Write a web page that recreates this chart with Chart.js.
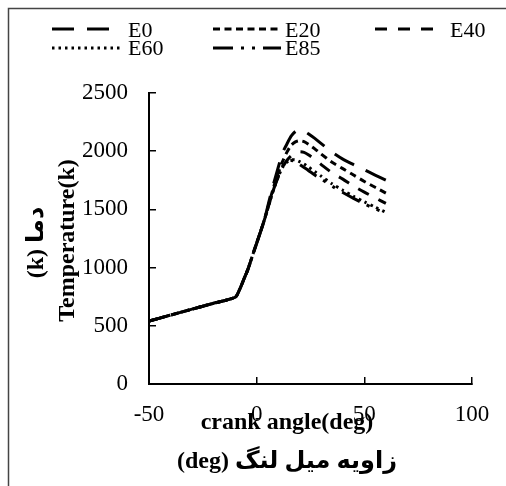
<!DOCTYPE html>
<html lang="en">
<head>
<meta charset="UTF-8">
<title>Temperature vs crank angle</title>
<script src="https://cdn.jsdelivr.net/npm/chart.js"></script>
<style>
  html, body { margin: 0; padding: 0; background: #fff; }
</style>
</head>
<body>
<canvas id="myChart" width="506" height="486"></canvas>

<script>
// crank angle (deg), shared by all series
const angles = [-50, -40, -30, -20, -10, -8, -6, -4, -2, 0, 2, 4, 6, 8, 10, 12, 14, 16, 18, 20, 22, 24, 27, 30, 35, 40, 45, 50, 55, 60];

// in-cylinder temperature (k)
const tempE0  = [540, 592, 643, 694, 745, 808, 898, 988, 1100, 1210, 1320, 1440, 1590, 1730, 1860, 1985, 2060, 2130, 2170, 2185, 2175, 2150, 2110, 2065, 1992, 1932, 1885, 1840, 1795, 1752];
const tempE20 = [540, 592, 643, 694, 745, 808, 898, 988, 1100, 1210, 1320, 1435, 1570, 1700, 1810, 1910, 1990, 2050, 2080, 2090, 2082, 2060, 2020, 1975, 1905, 1850, 1795, 1740, 1690, 1640];
const tempE40 = [540, 592, 643, 694, 745, 808, 898, 988, 1100, 1210, 1320, 1435, 1560, 1680, 1780, 1860, 1920, 1960, 1985, 1995, 1990, 1970, 1930, 1885, 1815, 1760, 1700, 1648, 1600, 1552];
const tempE60 = [540, 592, 643, 694, 745, 808, 898, 988, 1100, 1210, 1320, 1435, 1560, 1680, 1780, 1860, 1905, 1925, 1925, 1910, 1890, 1865, 1825, 1785, 1720, 1665, 1612, 1565, 1520, 1475];
const tempE85 = [540, 592, 643, 694, 745, 808, 898, 988, 1100, 1210, 1320, 1435, 1560, 1680, 1785, 1870, 1910, 1920, 1910, 1885, 1860, 1835, 1795, 1760, 1700, 1645, 1595, 1548, 1505, 1465];

const seriesNames = ['E0', 'E20', 'E40', 'E60', 'E85'];
const seriesTemps = [tempE0, tempE20, tempE40, tempE60, tempE85];

// line styles (dash patterns) for each blend
const dashStyles = [[22, 13], [7, 4.5], [12, 11], [2.5, 4], [20, 8, 3, 8, 3, 8]];

const serif = '"Liberation Serif", "Times New Roman", serif';
Chart.defaults.color = '#000';
Chart.defaults.font.family = serif;

// legend, axis titles and the outer frame are drawn here
const legendColX = [52, 213, 375];
const legendTextX = [128, 285, 450];

const chartDecor = {
  id: 'chartDecor',
  afterDraw(chart) {
    const ctx = chart.ctx;
    const area = chart.chartArea;
    ctx.save();

    // frame (only top and left edges show)
    ctx.strokeStyle = '#444';
    ctx.lineWidth = 1.5;
    ctx.beginPath();
    ctx.moveTo(8.5, 486);
    ctx.lineTo(8.5, 8.5);
    ctx.lineTo(506, 8.5);
    ctx.stroke();

    // legend, 3 per row
    ctx.font = '22px ' + serif;
    ctx.textAlign = 'left';
    ctx.textBaseline = 'alphabetic';
    chart.data.datasets.forEach((ds, i) => {
      const col = i % 3;
      const row = Math.floor(i / 3);
      const x0 = legendColX[col];
      const ly = 29 + row * 19;
      ctx.strokeStyle = '#000';
      ctx.lineWidth = 3;
      ctx.setLineDash(ds.borderDash);
      ctx.beginPath();
      ctx.moveTo(x0, ly);
      ctx.lineTo(x0 + 68, ly);
      ctx.stroke();
      ctx.setLineDash([]);
      ctx.fillStyle = '#000';
      ctx.fillText(ds.label, legendTextX[col], 37 + row * 18);
    });

    // axis titles
    ctx.font = 'bold 24px ' + serif + ', "DejaVu Sans"';
    ctx.textAlign = 'center';
    ctx.textBaseline = 'middle';
    ctx.fillText('crank angle(deg)', 287, 423);
    ctx.fillText('(deg) زاویه میل لنگ', 287, 462);

    const cy = (area.top + area.bottom) / 2;
    ctx.save();
    ctx.translate(68, cy + 2);
    ctx.rotate(-Math.PI / 2);
    ctx.fillText('Temperature(k)', 0, 0);
    ctx.restore();
    ctx.save();
    ctx.translate(37, cy + 4);
    ctx.rotate(-Math.PI / 2);
    ctx.fillText('(k) دما', 0, 0);
    ctx.restore();

    ctx.restore();
  }
};

const ctx = document.getElementById('myChart').getContext('2d');
const myChart = new Chart(ctx, {
  type: 'line',
  data: {
    datasets: seriesNames.map((name, i) => ({
      label: name,
      data: angles.map((a, j) => ({ x: a, y: seriesTemps[i][j] })),
      borderColor: '#000',
      borderWidth: 3,
      borderDash: dashStyles[i],
      pointRadius: 0,
      fill: false,
      tension: 0.25
    }))
  },
  options: {
    responsive: false,
    animation: false,
    layout: { padding: { top: 93, right: 34, left: 0, bottom: 0 } },
    plugins: {
      legend: { display: false },
      tooltip: { enabled: false }
    },
    scales: {
      x: {
        type: 'linear',
        min: -50,
        max: 100,
        ticks: { stepSize: 50, font: { size: 23 }, color: '#000', padding: 24, callback: v => String(v) },
        grid: { drawOnChartArea: false, drawTicks: true, tickLength: -7, color: '#000', lineWidth: 1.5 },
        border: { display: true, color: '#000', width: 2 },
        afterFit: (s) => { s.height = 102; s.paddingLeft = 0; s.paddingRight = 0; }
      },
      y: {
        min: 0,
        max: 2500,
        ticks: { stepSize: 500, font: { size: 23 }, color: '#000', padding: 28, callback: v => String(v) },
        grid: { drawOnChartArea: false, drawTicks: true, tickLength: -7, color: '#000', lineWidth: 1.5 },
        border: { display: true, color: '#000', width: 2 },
        afterFit: (s) => { s.width = 149; s.paddingTop = 0; s.paddingBottom = 0; }
      }
    }
  },
  plugins: [chartDecor]
});
</script>
</body>
</html>
